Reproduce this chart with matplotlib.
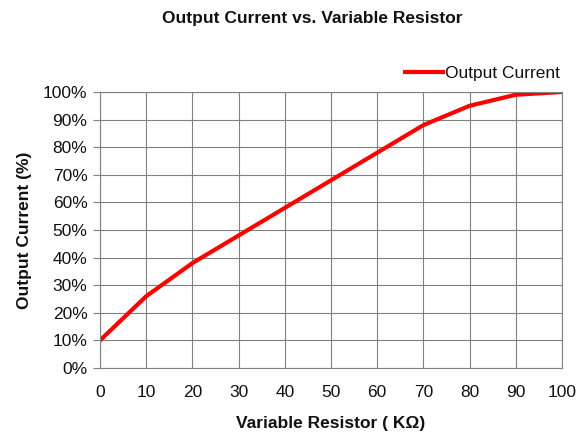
import numpy as np
import matplotlib.pyplot as plt

plt.rcParams['font.family'] = ['Liberation Sans', 'DejaVu Sans']

# Data
resistance = [0, 10, 20, 30, 40, 50, 60, 70, 80, 90, 100]
current_pct = [10, 26, 38, 48, 58, 68, 78, 88, 95, 99, 100]

fig = plt.figure(figsize=(5.79, 4.37), dpi=100)
ax = fig.add_axes([0.1727, 0.1579, 0.7979, 0.6316])

ax.plot(resistance, current_pct, color='#ff0000', linewidth=3, label='Output Current')

ax.set_xlim(0, 100)
ax.set_ylim(0, 100)
ax.set_xticks(np.arange(0, 101, 10))
ax.set_yticks(np.arange(0, 101, 10))
ax.set_yticklabels([f'{v}%' for v in range(0, 101, 10)])
ax.tick_params(axis='both', labelsize=12.5, colors='#808080', labelcolor='#111111')
ax.tick_params(axis='y', length=5, width=0.8, pad=4)
ax.tick_params(axis='x', length=0, pad=12)
ax.grid(True, color='#808080', linewidth=0.8)
for s in ax.spines.values():
    s.set_color('#808080')
    s.set_linewidth(0.8)

ax.set_xlabel('Variable Resistor ( KΩ)', fontsize=12.5, fontweight='bold', labelpad=12,
              color='#111111')
ax.set_ylabel('Output Current (%)', fontsize=12.5, fontweight='bold', labelpad=8,
              color='#111111')
fig.text(0.54, 0.958, 'Output Current vs. Variable Resistor', ha='center', va='center',
         fontsize=12.5, fontweight='bold', color='#111111')

leg = ax.legend(loc='lower right', bbox_to_anchor=(1.02, 1.0), frameon=False, fontsize=12.5,
                handlelength=2.2, handletextpad=0.1, borderaxespad=0.25)
for t in leg.get_texts():
    t.set_color('#111111')

plt.savefig('out.png', dpi=100)
